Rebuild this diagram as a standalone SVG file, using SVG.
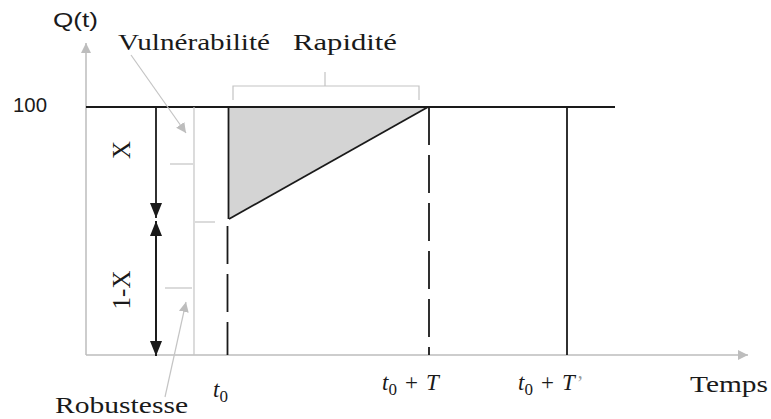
<svg xmlns="http://www.w3.org/2000/svg" width="771" height="419" viewBox="0 0 771 419">
<style>
.ax{stroke:#bdbdbd;stroke-width:1.5;fill:none}
.gl{stroke:#c4c4c4;stroke-width:1.2;fill:none}
.bk{stroke:#1a1a1a;stroke-width:1.8;fill:none}
.dash{stroke:#1a1a1a;stroke-width:1.8;fill:none;stroke-dasharray:38 10}
text{fill:#1a1a1a}
</style>
<defs>
<marker id="ga" markerWidth="12" markerHeight="12" refX="10" refY="6" orient="auto" markerUnits="userSpaceOnUse">
<path d="M0,1 L10,6 L0,11 Z" fill="#bdbdbd"/>
</marker>
<marker id="ba" markerWidth="16" markerHeight="14" refX="15" refY="7" orient="auto" markerUnits="userSpaceOnUse">
<path d="M0,1 L15,7 L0,13 Z" fill="#1a1a1a"/>
</marker>
</defs>

<g id="axes">
<line class="ax" x1="86" y1="355" x2="86" y2="43" marker-end="url(#ga)"/>
<line class="ax" x1="86" y1="355" x2="748" y2="355" marker-end="url(#ga)"/>
<text font-family="'Liberation Sans', 'DejaVu Sans', Arial, sans-serif" x="53" y="27" font-size="20" textLength="45" lengthAdjust="spacingAndGlyphs">Q(t)</text>
<text font-family="'Liberation Sans', 'DejaVu Sans', Arial, sans-serif" x="13" y="112" font-size="21" textLength="34" lengthAdjust="spacingAndGlyphs">100</text>
<text font-family="'Liberation Serif', 'DejaVu Serif', 'Times New Roman', serif" x="690" y="392" font-size="24" textLength="78" lengthAdjust="spacingAndGlyphs">Temps</text>
</g>

<g id="area">
<polygon points="229,108 427,108 229,219" fill="#d4d4d4"/>
</g>

<g id="connectors">
<line class="bk" x1="86" y1="107" x2="615" y2="107"/>
<line class="bk" x1="229" y1="219" x2="428" y2="107"/>
<line class="bk" x1="228.5" y1="107" x2="228.5" y2="219"/>
<line class="dash" x1="227.5" y1="226" x2="227.5" y2="355"/>
<line class="dash" x1="429" y1="107" x2="429" y2="355"/>
<line class="bk" x1="567" y1="107" x2="567" y2="355"/>
<line class="gl" x1="194" y1="107" x2="194" y2="355"/>
<line class="gl" x1="170" y1="164" x2="193" y2="164"/>
<line class="gl" x1="195" y1="222" x2="215" y2="222"/>
<line class="gl" x1="165" y1="288" x2="192" y2="288"/>
<line class="bk" x1="156" y1="107" x2="156" y2="218" marker-end="url(#ba)"/>
<line class="bk" x1="156" y1="356" x2="156" y2="221" marker-end="url(#ba)"/>
<line class="bk" x1="156" y1="221" x2="156" y2="356" marker-end="url(#ba)"/>
<line class="gl" x1="131" y1="55" x2="186" y2="133" marker-end="url(#ga)"/>
<line class="gl" x1="165" y1="397" x2="186" y2="302" marker-end="url(#ga)"/>
<path class="gl" d="M233,100 L233,86 L419,86 L419,100 M325,86 L325,72"/>
</g>

<g id="labels" font-family="'Liberation Serif', 'DejaVu Serif', 'Times New Roman', serif">
<text x="118" y="50" font-size="24" textLength="152" lengthAdjust="spacingAndGlyphs">Vulnérabilité</text>
<text x="293" y="50" font-size="24" textLength="104" lengthAdjust="spacingAndGlyphs">Rapidité</text>
<text x="55" y="413" font-size="24" textLength="133" lengthAdjust="spacingAndGlyphs">Robustesse</text>
<text font-size="25" transform="translate(130,150) rotate(-90)" text-anchor="middle">X</text>
<text font-size="25" transform="translate(130,290) rotate(-90)" text-anchor="middle">1-X</text>
</g>

<g id="ticks" font-family="'Liberation Serif', 'DejaVu Serif', 'Times New Roman', serif">
<text x="213" y="397" font-size="23"><tspan font-style="italic">t</tspan><tspan font-size="17" dy="5">0</tspan></text>
<text x="382" y="390" font-size="23"><tspan font-style="italic">t</tspan><tspan font-size="17" dy="5">0</tspan><tspan dy="-5" dx="8">+</tspan><tspan font-style="italic" dx="8">T</tspan></text>
<text x="518" y="390" font-size="23"><tspan font-style="italic">t</tspan><tspan font-size="17" dy="5">0</tspan><tspan dy="-5" dx="8">+</tspan><tspan font-style="italic" dx="8">T</tspan><tspan fill="#999999" font-size="20" dx="2">’</tspan></text>
</g>
</svg>
